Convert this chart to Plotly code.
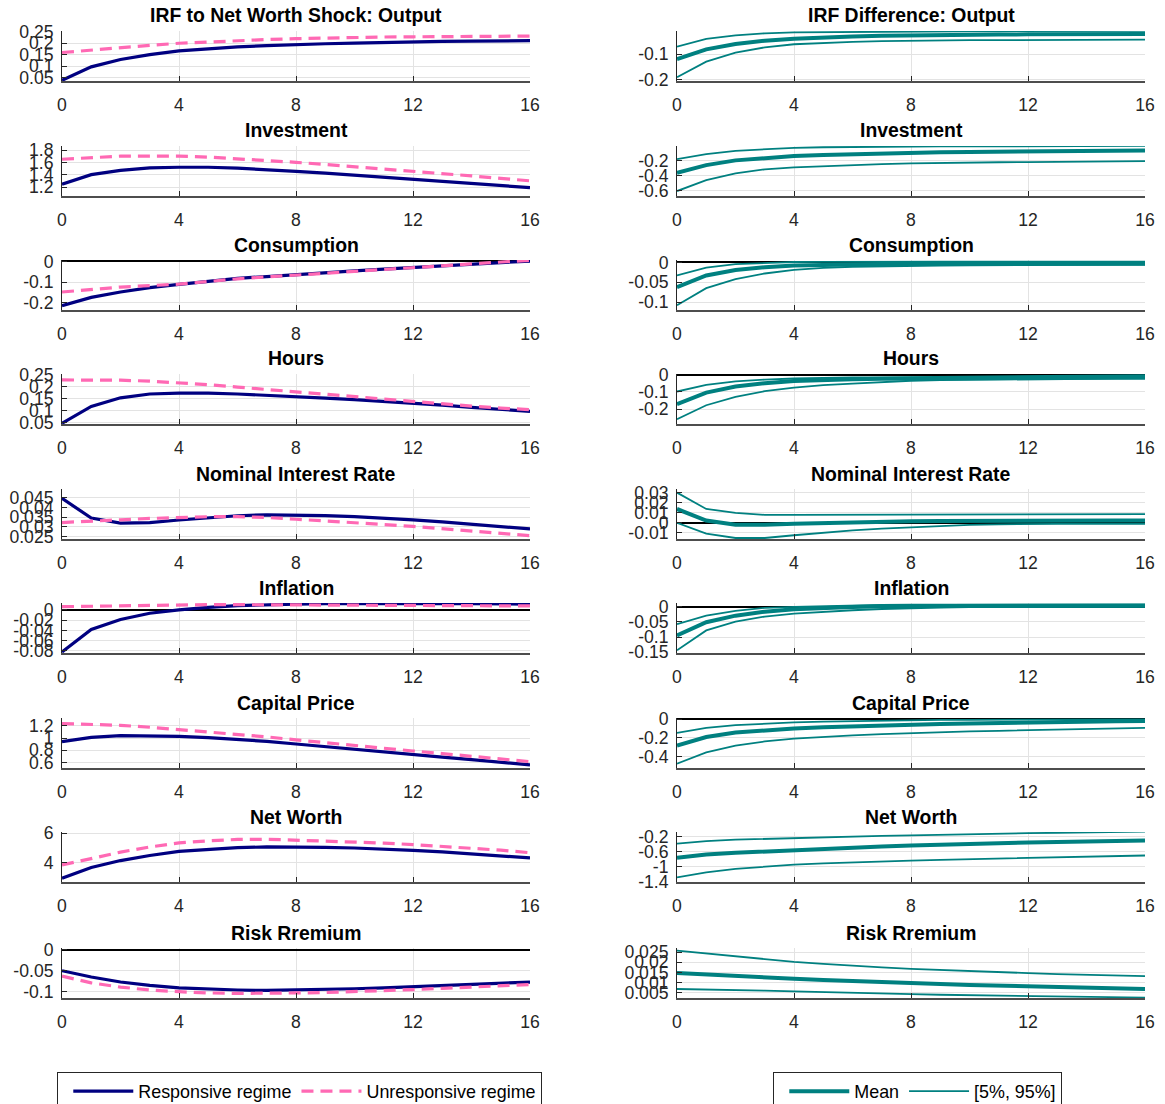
import plotly.graph_objects as go

# ---------------- data ----------------
steps = list(range(17))

titles_left = ["IRF to Net Worth Shock: Output", "Investment", "Consumption", "Hours",
               "Nominal Interest Rate", "Inflation", "Capital Price", "Net Worth", "Risk Rremium"]
titles_right = ["IRF Difference: Output", "Investment", "Consumption", "Hours",
                "Nominal Interest Rate", "Inflation", "Capital Price", "Net Worth", "Risk Rremium"]

x_ticks = [0, 4, 8, 12, 16]

# Responsive / unresponsive regime IRFs
output_resp = [0.039, 0.097, 0.129, 0.150, 0.166, 0.176, 0.183, 0.189, 0.194, 0.197, 0.200, 0.203, 0.205, 0.207, 0.208, 0.209, 0.210]
output_unresp = [0.159, 0.170, 0.180, 0.190, 0.199, 0.205, 0.211, 0.215, 0.219, 0.222, 0.224, 0.226, 0.227, 0.228, 0.229, 0.230, 0.230]
invest_resp = [1.244, 1.40, 1.47, 1.51, 1.52, 1.52, 1.505, 1.485, 1.455, 1.425, 1.39, 1.36, 1.33, 1.29, 1.255, 1.22, 1.19]
invest_unresp = [1.65, 1.68, 1.70, 1.70, 1.70, 1.685, 1.66, 1.63, 1.60, 1.565, 1.53, 1.49, 1.45, 1.415, 1.38, 1.34, 1.30]
cons_resp = [-0.214, -0.174, -0.148, -0.127, -0.111, -0.096, -0.082, -0.073, -0.065, -0.055, -0.046, -0.037, -0.029, -0.021, -0.013, -0.005, 0.002]
cons_unresp = [-0.148, -0.135, -0.124, -0.117, -0.110, -0.097, -0.084, -0.075, -0.066, -0.056, -0.046, -0.036, -0.027, -0.018, -0.009, -0.001, 0.006]
hours_resp = [0.047, 0.118, 0.154, 0.170, 0.174, 0.174, 0.170, 0.165, 0.160, 0.153, 0.146, 0.139, 0.131, 0.123, 0.114, 0.106, 0.097]
hours_unresp = [0.229, 0.229, 0.228, 0.224, 0.217, 0.209, 0.199, 0.189, 0.179, 0.168, 0.157, 0.147, 0.136, 0.127, 0.119, 0.111, 0.104]
rate_resp = [0.0448, 0.0346, 0.0320, 0.0323, 0.0336, 0.0349, 0.0358, 0.0363, 0.0363, 0.0359, 0.0353, 0.0346, 0.0337, 0.0326, 0.0315, 0.0303, 0.0290]
rate_unresp = [0.0323, 0.0332, 0.0337, 0.0344, 0.0349, 0.0353, 0.0353, 0.0349, 0.0340, 0.0332, 0.0323, 0.0313, 0.0303, 0.0292, 0.0281, 0.0268, 0.0255]
infl_resp = [-0.082, -0.038, -0.0186, -0.0065, 0.0, 0.005, 0.0082, 0.0102, 0.0115, 0.0122, 0.0126, 0.0127, 0.0126, 0.0124, 0.0121, 0.0118, 0.0115]
infl_unresp = [0.0063, 0.0072, 0.0082, 0.0092, 0.0101, 0.0103, 0.0102, 0.0099, 0.0096, 0.0094, 0.0092, 0.0090, 0.0088, 0.0085, 0.0082, 0.0080, 0.0077]
qprice_resp = [0.942, 1.01, 1.04, 1.04, 1.028, 1.008, 0.983, 0.945, 0.903, 0.858, 0.812, 0.769, 0.726, 0.686, 0.646, 0.603, 0.56]
qprice_unresp = [1.238, 1.225, 1.21, 1.178, 1.14, 1.105, 1.068, 1.02, 0.97, 0.922, 0.873, 0.83, 0.788, 0.745, 0.702, 0.657, 0.612]
networth_resp = [2.94, 3.67, 4.14, 4.48, 4.76, 4.90, 5.01, 5.06, 5.06, 5.03, 4.99, 4.92, 4.83, 4.72, 4.60, 4.46, 4.32]
networth_unresp = [3.84, 4.25, 4.71, 5.06, 5.33, 5.47, 5.57, 5.58, 5.52, 5.47, 5.40, 5.32, 5.22, 5.11, 4.99, 4.84, 4.67]
premium_resp = [-0.050, -0.065, -0.077, -0.085, -0.091, -0.094, -0.096, -0.097, -0.096, -0.095, -0.093, -0.091, -0.088, -0.086, -0.083, -0.080, -0.077]
premium_unresp = [-0.063, -0.079, -0.089, -0.096, -0.100, -0.103, -0.104, -0.104, -0.103, -0.102, -0.100, -0.098, -0.095, -0.092, -0.089, -0.086, -0.083]

# IRF differences: mean and 5% / 95% bands
output_mean = [-0.119, -0.081, -0.060, -0.047, -0.039, -0.034, -0.031, -0.028, -0.026, -0.025, -0.024, -0.023, -0.022, -0.022, -0.021, -0.021, -0.021]
output_p05 = [-0.190, -0.129, -0.094, -0.073, -0.061, -0.056, -0.052, -0.049, -0.047, -0.046, -0.045, -0.045, -0.044, -0.044, -0.043, -0.043, -0.043]
output_p95 = [-0.070, -0.040, -0.026, -0.018, -0.014, -0.013, -0.012, -0.0115, -0.011, -0.0105, -0.0102, -0.0100, -0.0098, -0.0093, -0.0088, -0.0084, -0.0080]
invest_mean = [-0.363, -0.26, -0.197, -0.163, -0.14, -0.125, -0.113, -0.104, -0.096, -0.09, -0.085, -0.081, -0.077, -0.073, -0.07, -0.067, -0.064]
invest_p05 = [-0.607, -0.46, -0.371, -0.317, -0.29, -0.273, -0.26, -0.248, -0.237, -0.23, -0.225, -0.222, -0.22, -0.215, -0.212, -0.21, -0.207]
invest_p95 = [-0.18, -0.113, -0.069, -0.047, -0.029, -0.022, -0.016, -0.014, -0.012, -0.011, -0.0095, -0.0085, -0.0078, -0.0068, -0.0055, -0.0045, -0.0037]
cons_mean = [-0.0625, -0.033, -0.019, -0.012, -0.008, -0.006, -0.0045, -0.004, -0.004, -0.0035, -0.0035, -0.0033, -0.003, -0.003, -0.003, -0.003, -0.003]
cons_p05 = [-0.108, -0.065, -0.042, -0.028, -0.019, -0.014, -0.011, -0.0095, -0.0085, -0.008, -0.0075, -0.007, -0.007, -0.0065, -0.006, -0.006, -0.006]
cons_p95 = [-0.033, -0.013, -0.0045, -0.001, 0.001, 0.0015, 0.002, 0.002, 0.002, 0.002, 0.002, 0.002, 0.002, 0.002, 0.002, 0.002, 0.002]
hours_mean = [-0.171, -0.104, -0.069, -0.050, -0.038, -0.031, -0.027, -0.025, -0.023, -0.022, -0.021, -0.020, -0.019, -0.018, -0.018, -0.017, -0.017]
hours_p05 = [-0.258, -0.177, -0.129, -0.096, -0.075, -0.061, -0.052, -0.043, -0.036, -0.032, -0.030, -0.028, -0.027, -0.026, -0.025, -0.024, -0.023]
hours_p95 = [-0.098, -0.060, -0.040, -0.029, -0.023, -0.019, -0.017, -0.016, -0.015, -0.013, -0.012, -0.010, -0.009, -0.007, -0.006, -0.004, -0.003]
rate_mean = [0.0136, 0.0022, -0.002, -0.002, -0.001, -0.0002, 0.0006, 0.001, 0.0015, 0.0018, 0.002, 0.0021, 0.0022, 0.0022, 0.0022, 0.0022, 0.0022]
rate_p05 = [0.0, -0.0107, -0.015, -0.015, -0.0123, -0.0098, -0.0075, -0.0058, -0.0043, -0.003, -0.002, -0.0015, -0.001, -0.001, -0.001, -0.001, -0.001]
rate_p95 = [0.0297, 0.0136, 0.0097, 0.0078, 0.0078, 0.0078, 0.0078, 0.0079, 0.008, 0.008, 0.0081, 0.0082, 0.0083, 0.0083, 0.0084, 0.0085, 0.0085]
infl_mean = [-0.095, -0.051, -0.029, -0.016, -0.0077, -0.003, 0.0, 0.002, 0.003, 0.0035, 0.0037, 0.0037, 0.0037, 0.0037, 0.0037, 0.0037, 0.0037]
infl_p05 = [-0.144, -0.078, -0.049, -0.032, -0.022, -0.016, -0.011, -0.007, -0.004, -0.002, -0.001, -0.0005, 0.0, 0.0, 0.0, 0.0, 0.0]
infl_p95 = [-0.057, -0.029, -0.013, -0.003, 0.0, 0.003, 0.0055, 0.0067, 0.0075, 0.0078, 0.008, 0.008, 0.008, 0.008, 0.008, 0.008, 0.008]
qprice_mean = [-0.284, -0.193, -0.145, -0.12, -0.101, -0.087, -0.076, -0.066, -0.058, -0.052, -0.047, -0.041, -0.036, -0.032, -0.028, -0.025, -0.022]
qprice_p05 = [-0.477, -0.357, -0.284, -0.24, -0.21, -0.19, -0.175, -0.161, -0.149, -0.14, -0.133, -0.126, -0.12, -0.113, -0.106, -0.1, -0.095]
qprice_p95 = [-0.149, -0.095, -0.065, -0.047, -0.036, -0.028, -0.022, -0.016, -0.011, -0.009, -0.008, -0.007, -0.006, -0.005, -0.004, -0.0035, -0.003]
networth_mean = [-0.762, -0.673, -0.627, -0.592, -0.538, -0.512, -0.492, -0.46, -0.43, -0.405, -0.384, -0.366, -0.349, -0.335, -0.322, -0.308, -0.295]
networth_p05 = [-1.286, -1.151, -1.06, -0.997, -0.943, -0.91, -0.881, -0.857, -0.835, -0.815, -0.8, -0.78, -0.762, -0.745, -0.73, -0.715, -0.7]
networth_p95 = [-0.384, -0.314, -0.276, -0.253, -0.232, -0.208, -0.186, -0.172, -0.159, -0.14, -0.124, -0.114, -0.102, -0.09, -0.078, -0.070, -0.062]
premium_mean = [0.0147, 0.0139, 0.0132, 0.0125, 0.0119, 0.0113, 0.0107, 0.0102, 0.0097, 0.0093, 0.0089, 0.0085, 0.0082, 0.0078, 0.0075, 0.0072, 0.0069]
premium_p05 = [0.0069, 0.0067, 0.0064, 0.0061, 0.0057, 0.0053, 0.0049, 0.0046, 0.0044, 0.0041, 0.0039, 0.0036, 0.0034, 0.0032, 0.0030, 0.0028, 0.0027]
premium_p95 = [0.0257, 0.0243, 0.0230, 0.0216, 0.0202, 0.0192, 0.0182, 0.0175, 0.0168, 0.0162, 0.0157, 0.0152, 0.0147, 0.0142, 0.0138, 0.0135, 0.0132]

left_resp = [output_resp, invest_resp, cons_resp, hours_resp, rate_resp, infl_resp, qprice_resp, networth_resp, premium_resp]
left_unresp = [output_unresp, invest_unresp, cons_unresp, hours_unresp, rate_unresp, infl_unresp, qprice_unresp, networth_unresp, premium_unresp]
right_mean = [output_mean, invest_mean, cons_mean, hours_mean, rate_mean, infl_mean, qprice_mean, networth_mean, premium_mean]
right_p05 = [output_p05, invest_p05, cons_p05, hours_p05, rate_p05, infl_p05, qprice_p05, networth_p05, premium_p05]
right_p95 = [output_p95, invest_p95, cons_p95, hours_p95, rate_p95, infl_p95, qprice_p95, networth_p95, premium_p95]

# y tick labels per panel
left_yticks = [
    [0.05, 0.1, 0.15, 0.2, 0.25],
    [1.2, 1.4, 1.6, 1.8],
    [-0.2, -0.1, 0],
    [0.05, 0.1, 0.15, 0.2, 0.25],
    [0.025, 0.03, 0.035, 0.04, 0.045],
    [-0.08, -0.06, -0.04, -0.02, 0],
    [0.6, 0.8, 1, 1.2],
    [4, 6],
    [-0.1, -0.05, 0],
]
right_yticks = [
    [-0.2, -0.1],
    [-0.6, -0.4, -0.2],
    [-0.1, -0.05, 0],
    [-0.2, -0.1, 0],
    [-0.01, 0, 0.01, 0.02, 0.03],
    [-0.15, -0.1, -0.05, 0],
    [-0.4, -0.2, 0],
    [-1.4, -1, -0.6, -0.2],
    [0.005, 0.01, 0.015, 0.02, 0.025],
]

# ---------------- style / layout ----------------
left_ranges = [[0.036, 0.252], [1.054, 1.865], [-0.235, 0.007], [0.044, 0.254], [0.0238, 0.0496],
               [-0.084, 0.0135], [0.508, 1.33], [2.69, 6.07], [-0.115, 0.004]]
right_ranges = [[-0.205, -0.009], [-0.673, -0.005], [-0.12, 0.006], [-0.285, 0.003], [-0.016, 0.0333],
                [-0.153, 0.013], [-0.524, 0.011], [-1.41, -0.07], [0.0025, 0.027]]

W, H = 1165, 1104
FONT = "Liberation Sans, Arial, Helvetica, sans-serif"
NAVY = "#000080"
PINK = "#FF69B4"
TEAL = "#008080"
AX = "#262626"
GRID = "#e3e3e3"

row_tops = [31, 146, 260, 374, 489, 603, 718, 832, 948]
panel_h = 50
col_x = [(62, 530), (677, 1145)]


def fmt(v):
    return f"{v:g}"


fig = go.Figure()
layout = dict(
    width=W, height=H,
    margin=dict(l=0, r=0, t=0, b=0, autoexpand=False),
    paper_bgcolor="white", plot_bgcolor="white",
    font=dict(family=FONT, size=17.6, color=AX),
    annotations=[],
)

for r in range(9):
    for c in range(2):
        k = 2 * r + c + 1
        xa = "xaxis" if k == 1 else f"xaxis{k}"
        ya = "yaxis" if k == 1 else f"yaxis{k}"
        xr = "x" if k == 1 else f"x{k}"
        yr = "y" if k == 1 else f"y{k}"
        top = row_tops[r]
        bot = top + panel_h
        x0, x1 = col_x[c]
        yt = (left_yticks if c == 0 else right_yticks)[r]
        layout[xa] = dict(
            domain=[x0 / W, x1 / W], anchor=yr, range=[0, 16],
            tickvals=x_ticks, ticktext=[fmt(v) for v in x_ticks],
            ticks="inside", ticklen=5, tickcolor=AX,
            showline=True, linecolor="#4d4d4d", linewidth=1.5,
            showgrid=True, gridcolor=GRID, gridwidth=1, zeroline=False,
            tickfont=dict(size=17.6, color=AX, family=FONT), ticklabelstandoff=7,
        )
        layout[ya] = dict(
            domain=[1 - bot / H, 1 - top / H], anchor=xr,
            range=(left_ranges if c == 0 else right_ranges)[r],
            tickvals=yt, ticktext=[fmt(v) for v in yt],
            ticks="inside", ticklen=5, tickcolor=AX,
            showline=True, linecolor=AX, linewidth=1,
            showgrid=True, gridcolor=GRID, gridwidth=1,
            zeroline=True, zerolinecolor="black", zerolinewidth=2,
            tickfont=dict(size=17.6, color=AX, family=FONT), ticklabelstandoff=4,
        )
        title = (titles_left if c == 0 else titles_right)[r]
        layout["annotations"].append(dict(
            text=f"<b>{title}</b>", xref="paper", yref="paper",
            x=(x0 + x1) / 2 / W, y=1 - (top - 15.5) / H,
            xanchor="center", yanchor="middle", showarrow=False,
            font=dict(size=19.4, color="black", family=FONT),
        ))
        if c == 0:
            fig.add_trace(go.Scatter(
                x=steps, y=left_resp[r], xaxis=xr, yaxis=yr, mode="lines",
                line=dict(color=NAVY, width=3.2), name="Responsive regime",
                legend="legend", showlegend=(r == 0)))
            fig.add_trace(go.Scatter(
                x=steps, y=left_unresp[r], xaxis=xr, yaxis=yr, mode="lines",
                line=dict(color=PINK, width=3.2, dash="12px,7px"), name="Unresponsive regime",
                legend="legend", showlegend=(r == 0)))
        else:
            fig.add_trace(go.Scatter(
                x=steps, y=right_mean[r], xaxis=xr, yaxis=yr, mode="lines",
                line=dict(color=TEAL, width=4), name="Mean",
                legend="legend2", showlegend=(r == 0)))
            fig.add_trace(go.Scatter(
                x=steps, y=right_p05[r], xaxis=xr, yaxis=yr, mode="lines",
                line=dict(color=TEAL, width=1.8), name="[5%, 95%]",
                legend="legend2", showlegend=(r == 0)))
            fig.add_trace(go.Scatter(
                x=steps, y=right_p95[r], xaxis=xr, yaxis=yr, mode="lines",
                line=dict(color=TEAL, width=1.8), name="[5%, 95%]",
                legend="legend2", showlegend=False))

legend_common = dict(
    yanchor="top", xanchor="left", xref="paper", yref="paper",
    orientation="h", bordercolor=AX, borderwidth=1, bgcolor="white",
    font=dict(size=17.9, family=FONT, color="black"), itemwidth=60,
    traceorder="normal",
    title=dict(text="&nbsp;", side="left", font=dict(size=1)),
)
layout["legend"] = dict(x=57 / W, y=1 - 1072 / H, **legend_common)
layout["legend2"] = dict(x=773 / W, y=1 - 1072 / H, **legend_common)
layout["showlegend"] = True
fig.update_layout(**layout)
fig.write_html("out.html")
